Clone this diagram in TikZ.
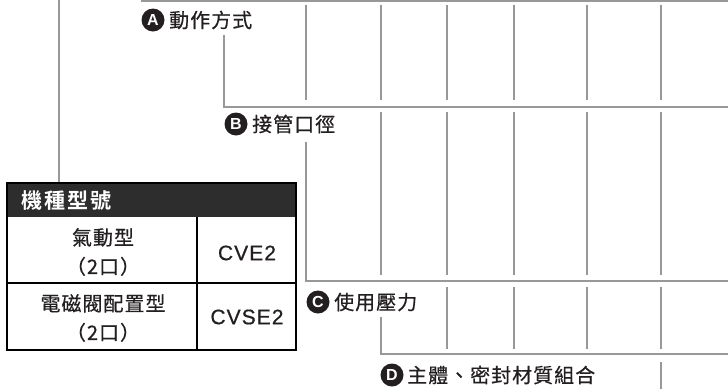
\documentclass[tikz,border=0pt]{standalone}
\usepackage{fontspec}
\setmainfont{Liberation Sans}
\newfontfamily\cjk[LetterSpace=5,FakeBold=0.5]{Noto Sans CJK TC}
\newfontfamily\cjkh[LetterSpace=10]{Noto Sans CJK TC Bold}
\newfontfamily\latsp[LetterSpace=5,FakeBold=0.7]{Liberation Sans}
\definecolor{lin}{RGB}{152,152,155}
\definecolor{txt}{RGB}{35,31,32}
\definecolor{hdr}{RGB}{45,45,45}
\tikzset{
  ln/.style={draw=lin, line width=2.4pt},
  badge/.style={circle, fill=txt, inner sep=0pt, minimum size=23pt, text=white, font=\bfseries\fontsize{16}{16}\selectfont},
  lbl/.style={anchor=west, inner sep=0pt, text=txt, font=\cjk\fontsize{20}{22}\selectfont},
  cell/.style={inner sep=0pt, text=txt, align=center, font=\cjk\fontsize{20}{29}\selectfont},
  code/.style={inner sep=0pt, text=txt, font=\latsp\fontsize{21}{22}\selectfont},
  tbl/.style={draw=black, line width=1.6pt}
}
\begin{document}
\begin{tikzpicture}[x=1pt,y=-1pt]
\useasboundingbox (0,0) rectangle (728,389);
% bracket lines
\draw[ln] (141,1) -- (728,1);
\draw[ln] (59,0) -- (59,183);
\foreach \x in {306,381,447,514,587,661} \draw[ln] (\x,5) -- (\x,100);
\draw[ln] (224,35) -- (224,107) -- (728,107);
\foreach \x in {381,447,514,587,661} \draw[ln] (\x,112) -- (\x,275);
\draw[ln] (306,142) -- (306,281) -- (728,281);
\foreach \x in {447,514,587,661} \draw[ln] (\x,287) -- (\x,349);
\draw[ln] (381,317) -- (381,354) -- (728,354);
\draw[ln] (661,362) -- (661,389);
% labels
\node[badge] (ba) at (153,20) {A};
\node[lbl] (ta) at (169,20) {動作方式};
\node[badge] (bb) at (236,124) {B};
\node[lbl] (tb) at (252,124) {接管口徑};
\node[badge] (bc) at (318,302) {C};
\node[lbl] (tc) at (334,302) {使用壓力};
\node[badge] (bd) at (392,375) {D};
\node[lbl] (td) at (407,375) {主體、密封材質組合};
% table
\fill[hdr] (7,183) rectangle (296,217);
\draw[tbl] (7,183) rectangle (296,350);
\draw[tbl] (7,283) -- (296,283);
\draw[tbl] (197,217) -- (197,350);
\node[anchor=west, inner sep=0pt, text=white, font=\cjkh\fontsize{21}{22}\selectfont] (th) at (21,201) {機種型號};
\node[cell] (c1) at (103,252) {氣動型\\（2口）};
\node[code] (c2) at (247,253) {CVE2};
\node[cell] (c3) at (103,318) {電磁閥配置型\\（2口）};
\node[code] (c4) at (247,317) {CVSE2};
\end{tikzpicture}
\end{document}
